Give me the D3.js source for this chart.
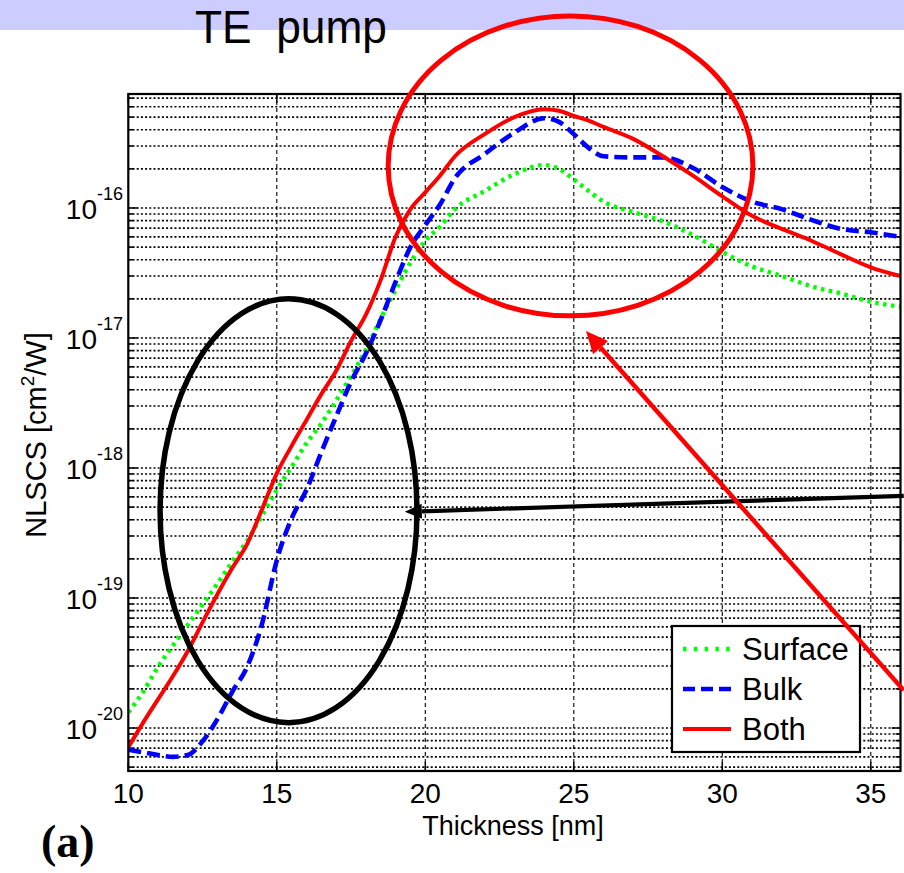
<!DOCTYPE html>
<html>
<head>
<meta charset="utf-8">
<script src="https://cdn.jsdelivr.net/npm/d3@7"></script>
<style>
  html, body { margin: 0; padding: 0; background: #fff; }
  svg { display: block; font-family: "Liberation Sans", Arial, sans-serif; }
</style>
</head>
<body>
<svg id="chart" width="904" height="873"></svg>
<script>
// ---------------- data ----------------
const thickness = [10, 10.5, 11, 11.5, 12, 12.5, 13, 13.5, 14, 14.5, 15, 15.5, 16, 16.5, 17, 17.5, 18, 18.5, 19, 19.5,
                   20, 20.5, 21, 22, 23, 24, 24.5, 25, 25.5, 26, 27, 28, 29, 30, 31, 32, 33, 34, 35, 36];

const surfaceValues = [1.32e-20, 1.9e-20, 2.95e-20, 4.3e-20, 6.2e-20, 8.9e-20, 1.29e-19, 1.9e-19, 2.75e-19, 4.3e-19,
                       6.8e-19, 1.02e-18, 1.55e-18, 2.2e-18, 3.3e-18, 5.1e-18, 8.1e-18, 1.41e-17, 2.34e-17, 3.8e-17,
                       5.6e-17, 7.2e-17, 9.8e-17, 1.35e-16, 1.82e-16, 2.14e-16, 2.0e-16, 1.66e-16, 1.35e-16, 1.12e-16,
                       9.3e-17, 7.9e-17, 6.2e-17, 4.6e-17, 3.55e-17, 3.0e-17, 2.5e-17, 2.2e-17, 1.9e-17, 1.74e-17];

const bulkValues = [6.8e-21, 6.5e-21, 6.2e-21, 6.0e-21, 6.2e-21, 7.9e-21, 1.17e-20, 1.9e-20, 2.95e-20, 6.3e-20,
                    1.95e-19, 4.1e-19, 6.8e-19, 1.32e-18, 2.5e-18, 4.6e-18, 7.6e-18, 1.38e-17, 2.7e-17, 5.0e-17,
                    7.4e-17, 1.07e-16, 1.7e-16, 2.6e-16, 3.8e-16, 4.9e-16, 4.6e-16, 3.7e-16, 2.9e-16, 2.5e-16,
                    2.45e-16, 2.45e-16, 2.04e-16, 1.45e-16, 1.12e-16, 9.8e-17, 8.1e-17, 6.9e-17, 6.5e-17, 6.0e-17];

const bothValues = [7.1e-21, 1.1e-20, 1.66e-20, 2.5e-20, 3.9e-20, 6.5e-20, 1.07e-19, 1.7e-19, 2.6e-19, 4.8e-19,
                    9.1e-19, 1.48e-18, 2.34e-18, 3.7e-18, 5.6e-18, 9.5e-18, 1.51e-17, 2.8e-17, 6.0e-17, 9.8e-17,
                    1.32e-16, 1.78e-16, 2.5e-16, 3.7e-16, 5.0e-16, 5.75e-16, 5.6e-16, 5.1e-16, 4.7e-16, 4.2e-16,
                    3.4e-16, 2.5e-16, 1.78e-16, 1.23e-16, 8.7e-17, 6.9e-17, 5.6e-17, 4.4e-17, 3.5e-17, 3.0e-17];

const seriesNames = ["Surface", "Bulk", "Both"];
const xTickValues = [10, 15, 20, 25, 30, 35];
const yDecades = [-20, -19, -18, -17, -16];

// annotation shapes in data coordinates (thickness, NLSCS)
const redEllipse = { t0: 18.75, t1: 31.03, v0: 1.48e-17, v1: 3.0e-15 };
const blackEllipse = { t0: 11.07, t1: 19.72, v0: 1.1e-20, v1: 2.0e-17 };
const blackArrow = { from: [36.11, 6.1e-19], to: [19.31, 4.6e-19] };
const redArrow = { from: [36.11, 1.95e-20], to: [25.41, 1.13e-17] };

// ---------------- layout ----------------
const svg = d3.select("#chart");
const W = 904, H = 873;
const plot = { left: 128.3, right: 900.5, top: 94, bottom: 771 };

const x = d3.scaleLinear().domain([10, 36]).range([plot.left, plot.left + 26 * 29.7]);
const y = d3.scaleLog().domain([4.67e-21, 7.53e-16]).range([plot.bottom, plot.top]);

// title band
svg.append("rect").attr("x", 0).attr("y", 0).attr("width", W).attr("height", 30).attr("fill", "#ccccff");
svg.append("text").attr("x", 195).attr("y", 43)
  .attr("font-size", 47).attr("fill", "#000")
  .attr("textLength", 192).attr("lengthAdjust", "spacingAndGlyphs")
  .text("TE\u00a0\u00a0pump");

// plot background
svg.append("rect").attr("x", plot.left).attr("y", plot.top)
  .attr("width", x(36) - plot.left).attr("height", plot.bottom - plot.top).attr("fill", "#fff");

const clipId = "plotclip";
svg.append("clipPath").attr("id", clipId).append("rect")
  .attr("x", plot.left).attr("y", plot.top).attr("width", x(36) - plot.left).attr("height", plot.bottom - plot.top);

// horizontal grid at every log tick
const [yLo, yHi] = y.domain();
const logTicks = [];
for (let e = -21; e <= -16; e++) {
  for (let m = 1; m <= 9; m++) {
    const v = m * Math.pow(10, e);
    if (v >= yLo && v <= yHi) logTicks.push({ v, major: m === 1 });
  }
}
const grid = svg.append("g");
grid.selectAll("line.h").data(logTicks).join("line")
  .attr("x1", plot.left).attr("x2", x(36))
  .attr("y1", d => y(d.v)).attr("y2", d => y(d.v))
  .attr("stroke", "#000").attr("stroke-width", 1.6).attr("stroke-dasharray", "2,2.2");

// vertical grid
grid.selectAll("line.v").data(xTickValues.filter(d => d > 10)).join("line")
  .attr("x1", d => x(d)).attr("x2", d => x(d))
  .attr("y1", plot.top).attr("y2", plot.bottom)
  .attr("stroke", "#000").attr("stroke-width", 1.1).attr("stroke-dasharray", "4,3");

// ticks (inside)
const ticks = svg.append("g").attr("stroke", "#000").attr("stroke-width", 1.5);
xTickValues.forEach(t => {
  ticks.append("line").attr("x1", x(t)).attr("x2", x(t)).attr("y1", plot.bottom).attr("y2", plot.bottom - 9);
  ticks.append("line").attr("x1", x(t)).attr("x2", x(t)).attr("y1", plot.top).attr("y2", plot.top + 9);
});
logTicks.forEach(d => {
  const len = d.major ? 9 : 5;
  ticks.append("line").attr("x1", plot.left).attr("x2", plot.left + len).attr("y1", y(d.v)).attr("y2", y(d.v));
  ticks.append("line").attr("x1", x(36)).attr("x2", x(36) - len).attr("y1", y(d.v)).attr("y2", y(d.v));
});

// series
const lineGen = d3.line()
  .x(d => x(d[0]))
  .y(d => y(d[1]))
  .curve(d3.curveMonotoneX);

const series = [
  { name: seriesNames[0], values: surfaceValues, color: "#00ff00", width: 4.4, dash: "3.5,4.5", legendDash: "3.5,7.3" },
  { name: seriesNames[1], values: bulkValues, color: "#0000ff", width: 4.6, dash: "13,6", legendDash: "12,6" },
  { name: seriesNames[2], values: bothValues, color: "#ff0000", width: 4, dash: null, legendDash: null }
];

const curves = svg.append("g").attr("clip-path", `url(#${clipId})`);
series.forEach(s => {
  curves.append("path")
    .datum(thickness.map((t, i) => [t, s.values[i]]))
    .attr("d", lineGen)
    .attr("fill", "none")
    .attr("stroke", s.color)
    .attr("stroke-width", s.width)
    .attr("stroke-dasharray", s.dash)
    .attr("stroke-linejoin", "round");
});

// frame
svg.append("rect").attr("x", plot.left).attr("y", plot.top)
  .attr("width", x(36) - plot.left).attr("height", plot.bottom - plot.top)
  .attr("fill", "none").attr("stroke", "#000").attr("stroke-width", 2.2);

// x tick labels
svg.append("g").selectAll("text").data(xTickValues).join("text")
  .attr("x", d => x(d)).attr("y", 803)
  .attr("text-anchor", "middle").attr("font-size", 28).attr("fill", "#000")
  .text(d => d);

// y tick labels
const yl = svg.append("g");
yDecades.forEach(e => {
  const ty = y(Math.pow(10, e));
  const t = yl.append("text").attr("x", 123).attr("y", ty + 11)
    .attr("text-anchor", "end").attr("fill", "#000").attr("font-size", 28);
  t.append("tspan").text("10");
  t.append("tspan").attr("font-size", 18).attr("dy", -19).text(String(e));
});

// axis labels
svg.append("text").attr("x", 513).attr("y", 835)
  .attr("text-anchor", "middle").attr("font-size", 27).attr("fill", "#000")
  .text("Thickness [nm]");

const ylab = svg.append("text")
  .attr("transform", "translate(46,435) rotate(-90)")
  .attr("text-anchor", "middle").attr("font-size", 29).attr("fill", "#000");
ylab.append("tspan").text("NLSCS [cm");
ylab.append("tspan").attr("font-size", 19).attr("dy", -12).text("2");
ylab.append("tspan").attr("dy", 12).text("/W]");

// (a)
svg.append("text").attr("x", 41).attr("y", 857)
  .attr("font-family", "'Liberation Serif', 'Times New Roman', serif")
  .attr("font-weight", "bold").attr("font-size", 46).attr("fill", "#000")
  .text("(a)");

// legend
const lg = svg.append("g");
lg.append("rect").attr("x", 672).attr("y", 626).attr("width", 188).attr("height", 126)
  .attr("fill", "#fff").attr("stroke", "#000").attr("stroke-width", 2.2);
const legendY = [649, 689, 729];
series.forEach((s, i) => {
  lg.append("line").attr("x1", 683).attr("x2", 731).attr("y1", legendY[i]).attr("y2", legendY[i])
    .attr("stroke", s.color).attr("stroke-width", s.width).attr("stroke-dasharray", s.legendDash);
  lg.append("text").attr("x", 742).attr("y", legendY[i] + 10.5)
    .attr("font-size", 31).attr("fill", "#000").text(s.name);
});

// annotations
const ann = svg.append("g");
function drawEllipse(e, color, width) {
  const cx = (x(e.t0) + x(e.t1)) / 2, rx = (x(e.t1) - x(e.t0)) / 2;
  const cy = (y(e.v0) + y(e.v1)) / 2, ry = (y(e.v0) - y(e.v1)) / 2;
  ann.append("ellipse").attr("cx", cx).attr("cy", cy).attr("rx", rx).attr("ry", ry)
    .attr("fill", "none").attr("stroke", color).attr("stroke-width", width);
}
drawEllipse(redEllipse, "#ff0000", 5);
drawEllipse(blackEllipse, "#000", 5.5);

function drawArrow(a, color, width, headLen, headHalf) {
  const x1 = x(a.from[0]), y1 = y(a.from[1]), x2 = x(a.to[0]), y2 = y(a.to[1]);
  const ang = Math.atan2(y2 - y1, x2 - x1);
  const bx = x2 - headLen * Math.cos(ang), by = y2 - headLen * Math.sin(ang);
  ann.append("line").attr("x1", x1).attr("y1", y1).attr("x2", bx).attr("y2", by)
    .attr("stroke", color).attr("stroke-width", width);
  const px = -Math.sin(ang), py = Math.cos(ang);
  ann.append("polygon")
    .attr("points", [[x2, y2], [bx + px * headHalf, by + py * headHalf], [bx - px * headHalf, by - py * headHalf]].map(p => p.join(",")).join(" "))
    .attr("fill", color);
}
drawArrow(blackArrow, "#000", 4.2, 17, 7.5);
drawArrow(redArrow, "#ff0000", 4.5, 22, 10);
</script>
</body>
</html>
